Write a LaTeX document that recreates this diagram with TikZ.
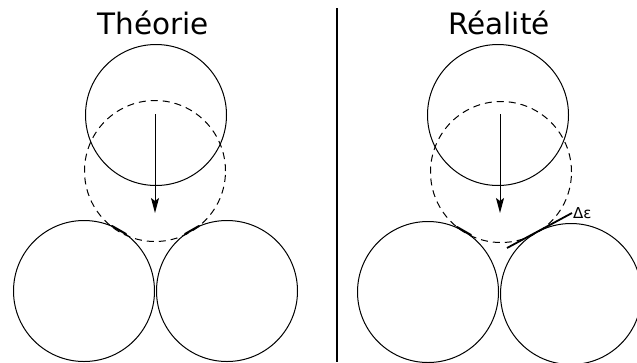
\documentclass[tikz,border=0pt]{standalone}
\usepackage{fontspec}
\setmainfont{DejaVu Sans}
\usetikzlibrary{arrows.meta}
\begin{document}
\begin{tikzpicture}[x=1pt,y=-1pt,
  ball/.style={circle,draw=black,line width=1pt,inner sep=0pt,minimum size=141pt},
  ghost/.style={ball,dash pattern=on 7pt off 5pt},
  fall/.style={line width=1pt,-{Stealth[length=15pt,width=8pt,inset=3pt]}},
  contact/.style={line width=2pt,line cap=round},
  title/.style={anchor=base,font=\fontsize{29.5}{32}\selectfont}]
\useasboundingbox (0,0) rectangle (637,362);
% left panel
\node[title] (t1) at (153,34) {Théorie};
\node[ball] (lt) at (156,115) {};
\node[ghost] (ld) at (155,171) {};
\node[ball] (lbl) at (84,291) {};
\node[ball] (lbr) at (227,291) {};
\coordinate (la1) at (155,114);
\coordinate (la2) at (155,213);
\draw[fall] (la1) -- (la2);
\coordinate (lc1a) at (112,226); \coordinate (lc1b) at (126,234);
\coordinate (lc2a) at (185,234); \coordinate (lc2b) at (199,226);
\draw[contact] (lc1a) -- (lc1b);
\draw[contact] (lc2a) -- (lc2b);
% divider
\coordinate (d1) at (337,8);
\coordinate (d2) at (337,362);
\draw[line width=1.2pt] (d1) -- (d2);
% right panel
\node[title] (t2) at (499,34) {Réalité};
\node[ball] (rt) at (498,115) {};
\node[ghost] (rd) at (501,172) {};
\node[ball] (rbl) at (428,292) {};
\node[ball] (rbr) at (571,294) {};
\coordinate (ra1) at (500,114);
\coordinate (ra2) at (500,213);
\draw[fall] (ra1) -- (ra2);
\coordinate (rc1a) at (457,227); \coordinate (rc1b) at (471,235);
\draw[contact] (rc1a) -- (rc1b);
\coordinate (rt1) at (507,248);
\coordinate (rt2) at (572,213);
\draw[line width=1.8pt] (rt1) -- (rt2);
\node[anchor=base west,inner sep=0pt,font=\fontsize{15}{17}\selectfont] (de) at (573,218) {Δε};
\end{tikzpicture}
\end{document}
